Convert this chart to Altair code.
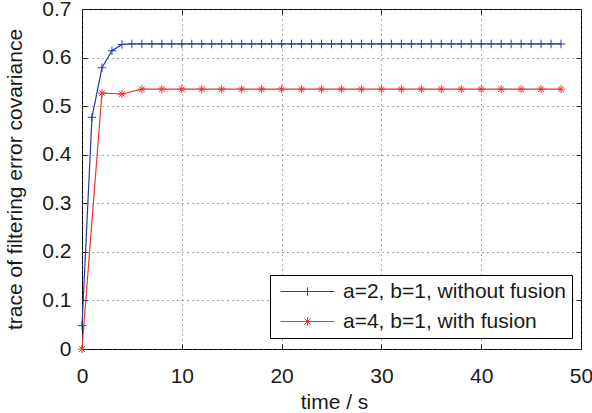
import altair as alt
import pandas as pd

FONT = "Liberation Sans"
BLUE = "#2b3ba3"
RED = "#e8362f"

blue_label = "a=2, b=1, without fusion"
red_label = "a=4, b=1, with fusion"

# time stamps
blue_t = list(range(0, 49))
red_t = list(range(0, 49, 2))

# trace values
blue_v = [0.048, 0.477, 0.579, 0.614, 0.627, 0.628, 0.628, 0.628, 0.628, 0.628,
          0.628, 0.628, 0.628, 0.628, 0.628, 0.628, 0.628, 0.628, 0.628, 0.628,
          0.628, 0.628, 0.628, 0.628, 0.628, 0.628, 0.628, 0.628, 0.628, 0.628,
          0.628, 0.628, 0.628, 0.628, 0.628, 0.628, 0.628, 0.628, 0.628, 0.628,
          0.628, 0.628, 0.628, 0.628, 0.628, 0.628, 0.628, 0.628, 0.628]
red_v = [0.0, 0.527, 0.525, 0.535, 0.535, 0.535, 0.535, 0.535, 0.535, 0.535,
         0.535, 0.535, 0.535, 0.535, 0.535, 0.535, 0.535, 0.535, 0.535, 0.535,
         0.535, 0.535, 0.535, 0.535, 0.535]

x_ticks = [0, 10, 20, 30, 40, 50]
y_ticks = [0, 0.1, 0.2, 0.3, 0.4, 0.5, 0.6, 0.7]

df = pd.concat([
    pd.DataFrame({"t": blue_t, "v": blue_v, "series": blue_label}),
    pd.DataFrame({"t": red_t, "v": red_v, "series": red_label}),
], ignore_index=True)

plus_path = "M0,-1V1M-1,0H1"
star_path = "M0,-1V1M-1,0H1M-0.7,-0.7L0.7,0.7M-0.7,0.7L0.7,-0.7"
leg_plus = "M-4.5,0H4.5M0,-0.7V0.7"
leg_star = "M-4.5,0H4.5M0,-0.7V0.7M-0.7,0H0.7M-0.5,-0.5L0.5,0.5M-0.5,0.5L0.5,-0.5"

xs = alt.Scale(domain=[0, 50], nice=False, zero=False)
ys = alt.Scale(domain=[0, 0.7], nice=False, zero=False)
color_scale = alt.Scale(domain=[blue_label, red_label], range=[BLUE, RED])
shape_scale = alt.Scale(domain=[blue_label, red_label], range=[leg_plus, leg_star])

common = dict(labelFont=FONT, labelFontSize=21, labelColor="#1a1a1a",
              titleFont=FONT, titleFontSize=21, titleFontWeight="normal",
              titleColor="#1a1a1a", domain=False, ticks=True, tickSize=5,
              tickColor="#222", tickWidth=1, offset=-5)

x_bottom = alt.Axis(orient="bottom", values=x_ticks, title="time / s",
                    grid=True, gridDash=[1, 4], gridColor="#555", gridWidth=1,
                    labelPadding=16, labelFlush=False,
                    titleX=252, titleY=64, titleBaseline="alphabetic",
                    titleAlign="center", **common)
y_left = alt.Axis(orient="left", values=y_ticks, format=".1~f",
                  title="trace of filtering error covariance",
                  grid=True, gridDash=[1, 4], gridColor="#555", gridWidth=1,
                  labelPadding=11, labelFlush=False,
                  titleX=-66, titleY=170, titleAngle=270,
                  titleBaseline="alphabetic", titleAlign="center", **common)
x_top = alt.Axis(orient="top", values=x_ticks, title=None, labels=False,
                 grid=False, **common)
y_right = alt.Axis(orient="right", values=y_ticks, title=None, labels=False,
                   grid=False, **common)

legend = alt.Legend(
    title=None, orient="none", legendX=188, legendY=266,
    strokeColor="black", fillColor="white", padding=6, cornerRadius=0,
    labelFont=FONT, labelFontSize=21, labelColor="#1a1a1a", labelLimit=400,
    symbolSize=144, symbolStrokeWidth=1, symbolFillColor="transparent",
    symbolOpacity=1, symbolOffset=21, labelOffset=25, rowPadding=8,
)

color_enc = alt.Color("series:N", scale=color_scale, legend=legend)

base = alt.Chart(df)
lines = base.mark_line(strokeWidth=1.2).encode(
    x=alt.X("t:Q", scale=xs, axis=x_bottom),
    y=alt.Y("v:Q", scale=ys, axis=y_left),
    color=color_enc,
)
legend_layer = base.mark_point(filled=False, strokeWidth=1, size=144, opacity=0).encode(
    x=alt.X("t:Q", scale=xs, axis=x_top),
    y=alt.Y("v:Q", scale=ys, axis=y_right),
    color=color_enc,
    shape=alt.Shape("series:N", scale=shape_scale, legend=legend),
)
blue_pts = base.transform_filter(alt.datum.series == blue_label).mark_point(
    shape=plus_path, filled=False, strokeWidth=1, size=72, opacity=1).encode(
    x=alt.X("t:Q", scale=xs, axis=None),
    y=alt.Y("v:Q", scale=ys, axis=None),
    color=color_enc,
)
red_pts = base.transform_filter(alt.datum.series == red_label).mark_point(
    shape=star_path, filled=False, strokeWidth=1, size=64, opacity=1).encode(
    x=alt.X("t:Q", scale=xs, axis=None),
    y=alt.Y("v:Q", scale=ys, axis=None),
    color=color_enc,
)

chart = (
    alt.layer(lines, legend_layer, blue_pts, red_pts)
    .resolve_axis(x="independent", y="independent")
    .properties(width=499, height=340, autosize="none",
                padding={"left": 82, "top": 9, "right": 11, "bottom": 64})
    .configure_view(stroke="black", strokeWidth=1)
)

chart.save("out.html", embed_options={"renderer": "svg", "actions": False})
